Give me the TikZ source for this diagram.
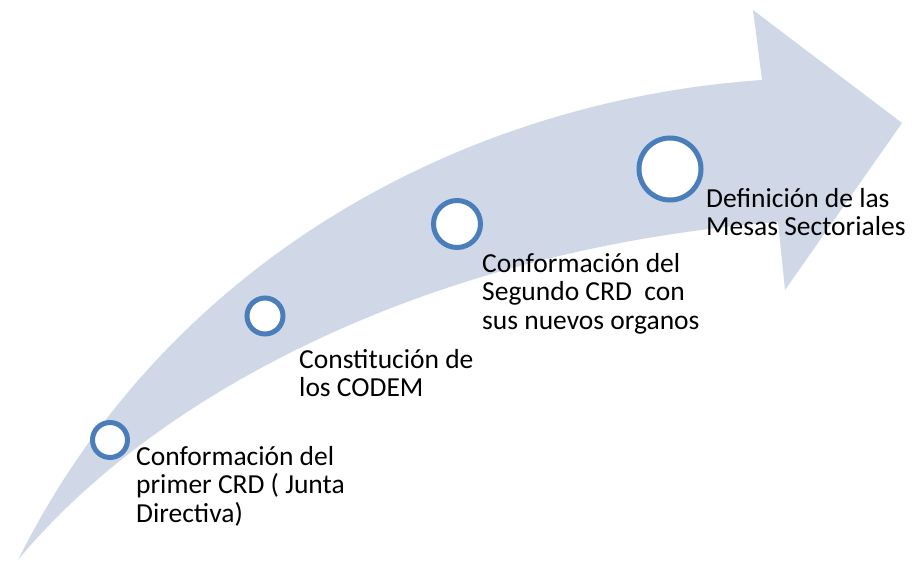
\documentclass[tikz,border=0pt]{standalone}
\usepackage{fontspec}
\setmainfont{Carlito}
\usepackage{xcolor}
\definecolor{banda}{HTML}{D0D8E8}
\definecolor{aro}{HTML}{4A7EBB}
\tikzset{
  hito/.style={circle, draw=aro, line width=5pt, fill=white, inner sep=0pt},
  etapa/.style={anchor=base west, align=left, inner sep=0pt,
    font=\fontsize{27.5}{28.5}\selectfont}
}

\begin{document}
\begin{tikzpicture}[x=1pt,y=-1pt]
\useasboundingbox (0,0) rectangle (912,567);
% flecha curva
\fill[banda] (18,560) .. controls (170,255) and (470,100) .. (762,80)
  -- (753,10) -- (902,123) -- (785,290) -- (778,222)
  .. controls (420,250) and (150,400) .. (18,560) -- cycle;
% hitos
\foreach \n/\x/\y/\d in {1/110/440/35, 2/265/316/36, 3/457/224/47, 4/670/169/62}{
\node[hito, minimum size=\d pt] (c\n) at (\x,\y) {};
}
% textos (base = ultima linea)
\node[etapa] (t1) at (136,522) {Conformación del\\primer CRD ( Junta\\Directiva)};
\node[etapa] (t2) at (299,396.5) {Constitución de\\los CODEM};
\node[etapa] (t3) at (482,329) {Conformación del\\Segundo CRD\ \ con\\sus nuevos organos};
\node[etapa] (t4) at (706,235.5) {Definición de las\\Mesas Sectoriales};
\end{tikzpicture}
\end{document}
